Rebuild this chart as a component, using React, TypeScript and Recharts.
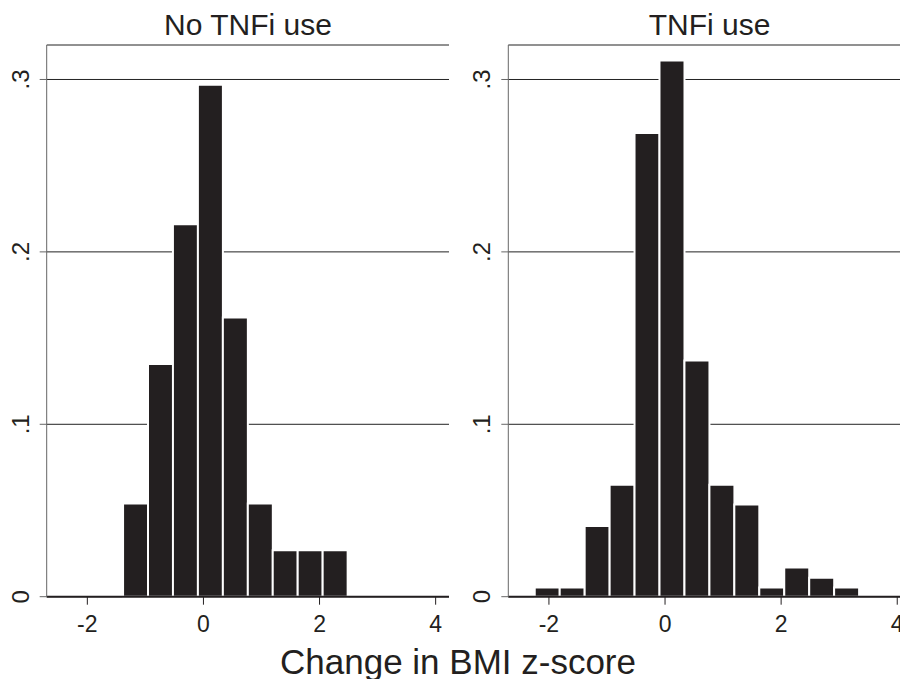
import React from "react";
import { BarChart, Bar, XAxis, YAxis, CartesianGrid } from "recharts";

// bin midpoints (change in BMI z-score), shared by both panels
const BIN_MIDS = [-2.03, -1.6, -1.17, -0.74, -0.311, 0.119, 0.549, 0.979, 1.408, 1.838, 2.268, 2.698, 3.127];
// fraction of patients per bin
const NO_TNFI = [0, 0, 0.054, 0.135, 0.216, 0.297, 0.162, 0.054, 0.027, 0.027, 0.027, 0, 0];
const TNFI = [0.0053, 0.0053, 0.041, 0.065, 0.269, 0.311, 0.137, 0.065, 0.0535, 0.0053, 0.017, 0.011, 0.0053];

const X_TICKS = [-2, 0, 2, 4];
const Y_TICKS = [0, 0.1, 0.2, 0.3];
const Y_LABELS = ["0", ".1", ".2", ".3"];
const X_DOMAIN: [number, number] = [-2.7, 4.23];
const Y_DOMAIN: [number, number] = [0, 0.32];

const INK = "#231f20";
const FONT = "'Liberation Sans', Arial, sans-serif";

function XTick({ x, y, payload }: any) {
  return (
    <text x={x} y={y + 27.5} textAnchor="middle" fontSize={23} fontFamily={FONT} fill={INK}>
      {payload.value}
    </text>
  );
}

function YTick({ x, y, payload }: any) {
  const bx = x - 11;
  const label = Y_LABELS[Y_TICKS.indexOf(payload.value)] ?? String(payload.value);
  return (
    <text
      x={bx}
      y={y}
      transform={`rotate(-90, ${bx}, ${y})`}
      textAnchor="middle"
      fontSize={24}
      fontFamily={FONT}
      fill={INK}
    >
      {label}
    </text>
  );
}

function Panel({ values, width, yAxisWidth }: { values: number[]; width: number; yAxisWidth: number }) {
  const data = BIN_MIDS.map((mid, i) => ({ mid, frac: values[i] }));
  return (
    <BarChart
      width={width}
      height={679}
      data={data}
      margin={{ top: 45, right: 11, bottom: 42.3, left: 0 }}
      barCategoryGap={0}
      barGap={0}
    >
      <CartesianGrid vertical={false} stroke="#222" strokeWidth={1} />
      <XAxis
        dataKey="mid"
        type="number"
        domain={X_DOMAIN}
        ticks={X_TICKS}
        allowDataOverflow
        height={40}
        tickSize={8}
        tickMargin={0}
        tick={<XTick />}
        tickLine={{ stroke: INK, strokeWidth: 1 }}
        axisLine={{ stroke: INK, strokeWidth: 2 }}
      />
      <XAxis
        xAxisId="top"
        orientation="top"
        type="number"
        domain={X_DOMAIN}
        height={0}
        tick={false}
        tickLine={false}
        axisLine={{ stroke: "#555", strokeWidth: 1 }}
      />
      <YAxis
        type="number"
        domain={Y_DOMAIN}
        ticks={Y_TICKS}
        width={yAxisWidth}
        tickSize={7}
        tickMargin={0}
        tick={<YTick />}
        tickLine={{ stroke: "#666" }}
        axisLine={{ stroke: "#666" }}
      />
      <YAxis
        yAxisId="right"
        orientation="right"
        type="number"
        domain={Y_DOMAIN}
        width={0}
        tick={false}
        tickLine={false}
        axisLine={{ stroke: "#555", strokeWidth: 1 }}
      />
      <Bar dataKey="frac" fill={INK} stroke="#fff" strokeWidth={2} isAnimationActive={false} />
    </BarChart>
  );
}

export default function App() {
  return (
    <div
      style={{
        position: "fixed",
        left: 0,
        top: 0,
        width: 900,
        height: 679,
        overflow: "hidden",
        background: "#fff",
      }}
    >
      <div style={{ position: "absolute", left: 0, top: 0 }}>
        <Panel values={NO_TNFI} width={460} yAxisWidth={46.7} />
      </div>
      <div style={{ position: "absolute", left: 460, top: 0 }}>
        <Panel values={TNFI} width={461.6} yAxisWidth={48.3} />
      </div>
      <svg
        width={900}
        height={679}
        style={{ position: "absolute", left: 0, top: 0, pointerEvents: "none" }}
      >
        <text x={248} y={35} textAnchor="middle" fontSize={30} fontFamily={FONT} fill={INK}>
          No TNFi use
        </text>
        <text x={709.5} y={35} textAnchor="middle" fontSize={30} fontFamily={FONT} fill={INK}>
          TNFi use
        </text>
        <text x={458} y={674} textAnchor="middle" fontSize={35} fontFamily={FONT} fill={INK}>
          Change in BMI z-score
        </text>
      </svg>
    </div>
  );
}
